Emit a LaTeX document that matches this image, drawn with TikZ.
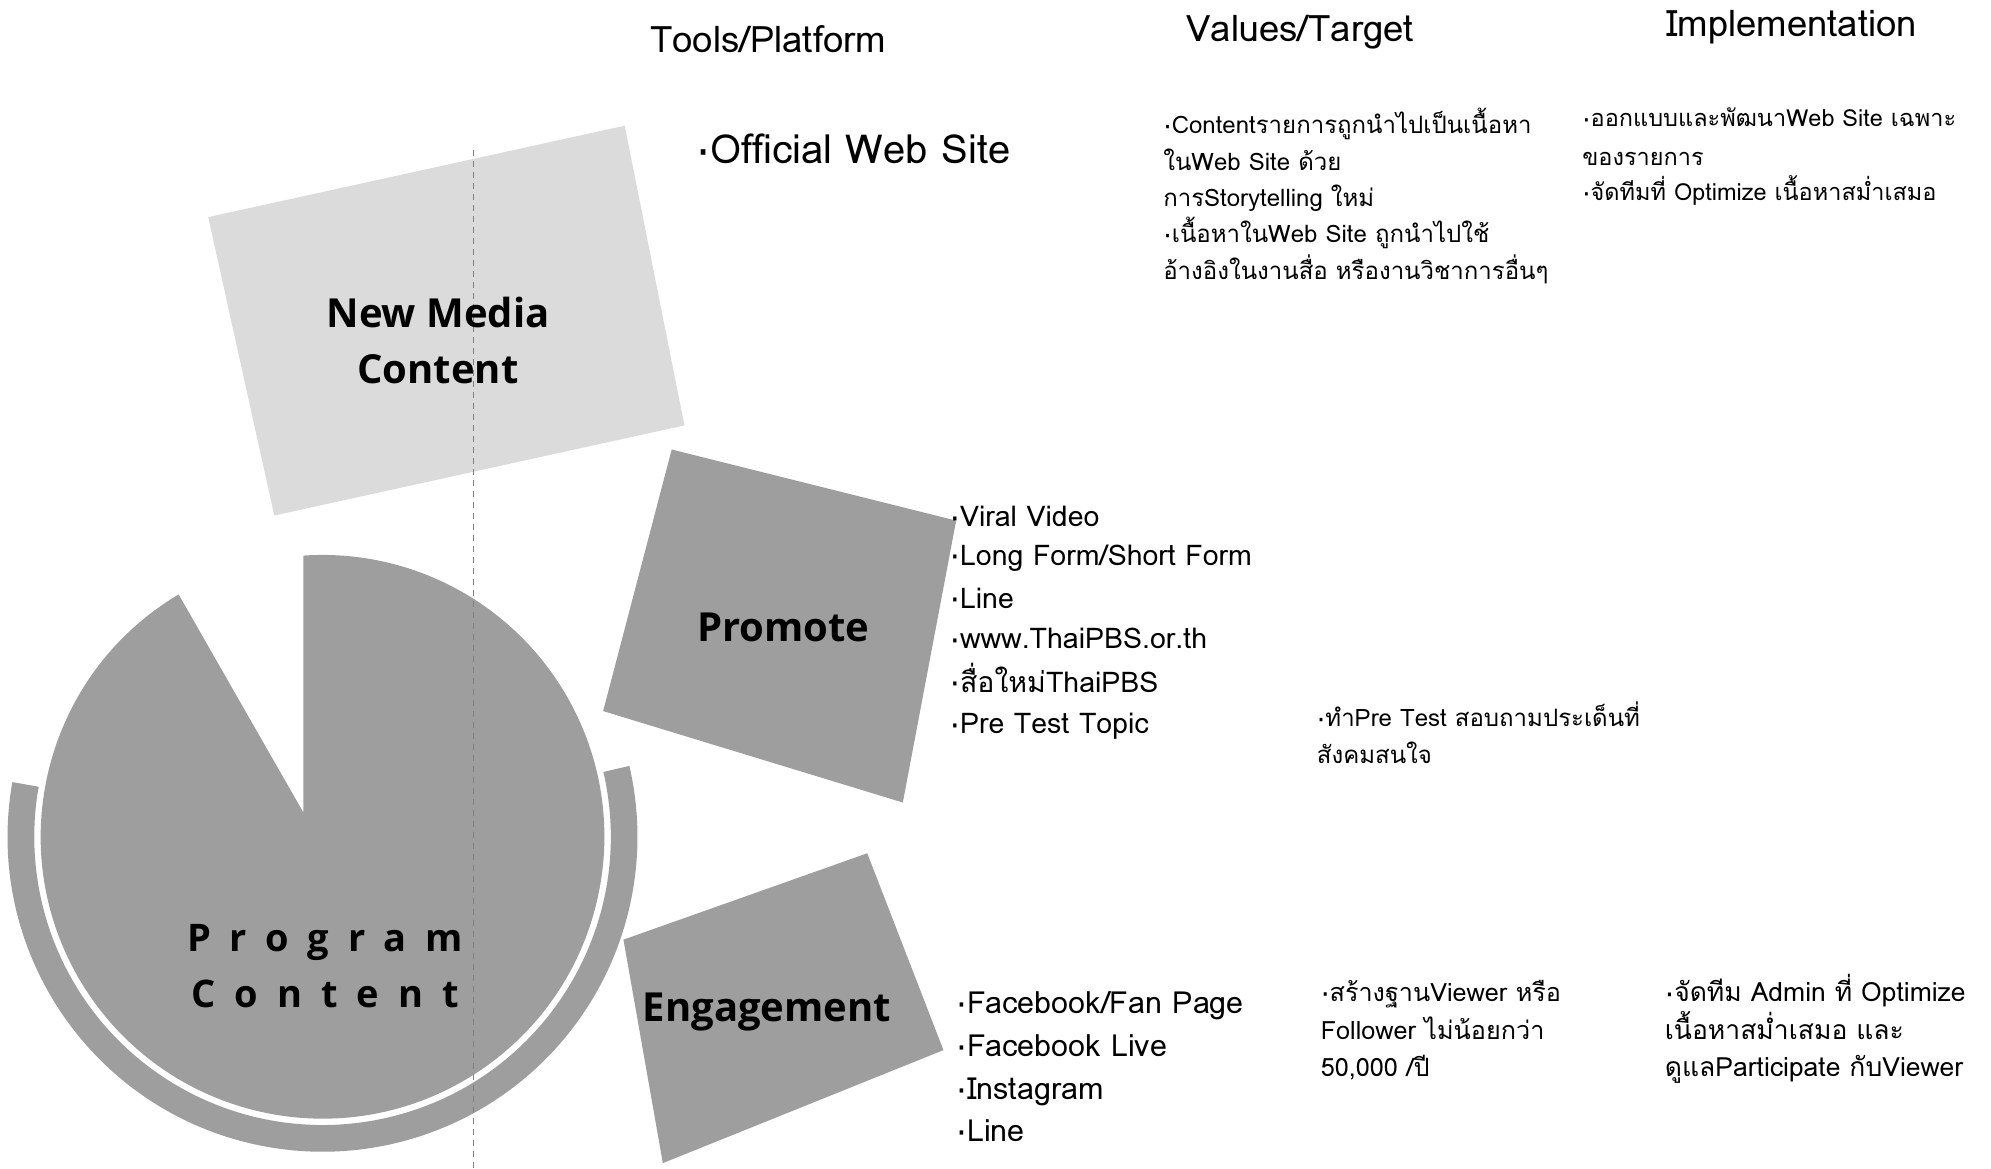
\documentclass[tikz,border=0pt]{standalone}
\usepackage{fontspec}
\newfontfamily\thai{Loma}[Script=Thai]
\newfontfamily\lab{Open Sans}
\newfontfamily\labsp{Open Sans}[LetterSpace=50]
\newcommand\mybul{\raisebox{-0.2em}{·}}
\begin{document}
\begin{tikzpicture}[x=1.27pt,y=-1.27pt,
  densefill/.style={fill=black!38},
  lightfill/.style={fill=black!14},
  foldline/.style={draw=black!50,line width=0.8pt,dash pattern=on 6pt off 5pt},
  hdr/.style={font=\thai\fontsize{36.5}{44}\selectfont,anchor=base,inner sep=0pt},
  web/.style={font=\thai\fontsize{40}{48}\selectfont,anchor=base west,inner sep=0pt},
  val/.style={anchor=base west,inner sep=0pt},
  vala/.style={val,font=\thai\fontsize{24}{30}\selectfont},
  valb/.style={val,font=\thai\fontsize{23.5}{30}\selectfont},
  valc/.style={val,font=\thai\fontsize{24}{30}\selectfont},
  vald/.style={val,font=\thai\fontsize{25.2}{30}\selectfont},
  vale/.style={val,font=\thai\fontsize{26.5}{30}\selectfont},
  lsta/.style={font=\thai\fontsize{28.5}{36}\selectfont,anchor=base west,inner sep=0pt},
  lstb/.style={font=\thai\fontsize{30.5}{36}\selectfont,anchor=base west,inner sep=0pt},
  lbl/.style={font=\lab\bfseries\fontsize{40}{56}\selectfont,align=center,inner sep=0pt},
  lblsp/.style={font=\labsp\bfseries\fontsize{38}{56}\selectfont,align=center,inner sep=0pt}]
\useasboundingbox (0,0) rectangle (1568,920);
\fill[white] (0,0) rectangle (1568,920);

% shapes
\coordinate (pc) at (254,659);
\fill[lightfill] (164,171) -- (492,99) -- (539,335) -- (216,406) -- cycle;
\fill[densefill] ([shift={(pc)}]170:315pt) arc[start angle=170,end angle=373,radius=315pt]
  -- ([shift={(pc)}]373:288.3pt) arc[start angle=373,end angle=170,radius=288.3pt] -- cycle;
\fill[densefill] (239,640) -- ([shift={(pc)}]120.7:281.9pt) arc[start angle=120.7,end angle=453.9,radius=281.9pt] -- cycle;
\fill[densefill] (529,354) -- (753,410) -- (711,632) -- (475,560) -- cycle;
\fill[densefill] (491,740) -- (683,672) -- (743,827) -- (522,916) -- cycle;
\coordinate (f1) at (373,118);
\coordinate (f2) at (373,920);
\draw[foldline] (f1) -- (f2);

% labels
\node[lbl] (nmc) at (345,268) {New Media\\Content};
\node[lbl] (prm) at (617,494) {Promote};
\node[lbl] (eng) at (604,797) {Engagement};
\node[lblsp] (pgc) at (256,761) {Program\\Content};

% headers
\node[hdr] (h1) at (605,41) {Tools/Platform};
\node[hdr] (h2) at (1024,33) {Values/Target};
\node[hdr] (h3) at (1411,29) {Implementation};

% row 1
\node[web] (t1) at (548,129) {\mybul Official Web Site};
\node[vala] (v1a) at (916,105) {\mybul Contentรายการถูกนำไปเป็นเนื้อหา};
\node[vala] (v1b) at (916,134) {ในWeb Site ด้วย};
\node[vala] (v1c) at (916,163) {การStorytelling ใหม่};
\node[vala] (v1d) at (916,191) {\mybul เนื้อหาในWeb Site ถูกนำไปใช้};
\node[vala] (v1e) at (916,220) {อ้างอิงในงานสื่อ หรืองานวิชาการอื่นๆ};
\node[valb] (i1a) at (1246,100) {\mybul ออกแบบและพัฒนาWeb Site เฉพาะ};
\node[valb] (i1b) at (1246,130) {ของรายการ};
\node[valb] (i1c) at (1246,158) {\mybul จัดทีมที่ Optimize เนื้อหาสม่ำเสมอ};

% row 2
\node[lsta] (t2a) at (748,415) {\mybul Viral Video};
\node[lsta] (t2b) at (748,445) {\mybul Long Form/Short Form};
\node[lsta] (t2c) at (748,479) {\mybul Line};
\node[lsta] (t2d) at (748,511) {\mybul www.ThaiPBS.or.th};
\node[lsta] (t2e) at (748,545) {\mybul สื่อใหม่ThaiPBS};
\node[lsta] (t2f) at (748,578) {\mybul Pre Test Topic};
\node[valc] (v2a) at (1037,572) {\mybul ทำPre Test สอบถามประเด็นที่};
\node[valc] (v2b) at (1037,601) {สังคมสนใจ};

% row 3
\node[lstb] (t3a) at (753,798) {\mybul Facebook/Fan Page};
\node[lstb] (t3b) at (753,832) {\mybul Facebook Live};
\node[lstb] (t3c) at (753,866) {\mybul Instagram};
\node[lstb] (t3d) at (753,899) {\mybul Line};
\node[vald] (v3a) at (1040,789) {\mybul สร้างฐานViewer หรือ};
\node[vald] (v3b) at (1040,819) {Follower ไม่น้อยกว่า};
\node[vald] (v3c) at (1040,848) {50,000 /ปี};
\node[vale] (i3a) at (1311,789) {\mybul จัดทีม Admin ที่ Optimize};
\node[vale] (i3b) at (1311,819) {เนื้อหาสม่ำเสมอ และ};
\node[vale] (i3c) at (1311,848) {ดูแลParticipate กับViewer};
\end{tikzpicture}
\end{document}
